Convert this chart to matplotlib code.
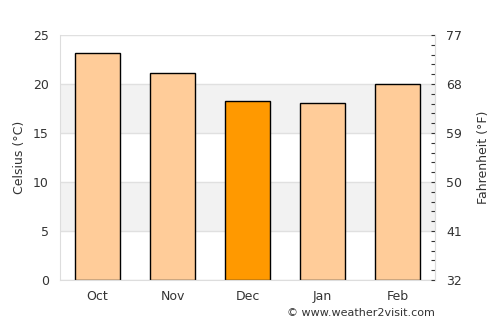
import matplotlib
matplotlib.use('Agg')
import matplotlib.pyplot as plt
import numpy as np

months = ['Oct', 'Nov', 'Dec', 'Jan', 'Feb']
temp_c = [23.15, 21.1, 18.25, 18.05, 19.95]
highlight = 'Dec'
c_ticks = [0, 5, 10, 15, 20, 25]
f_labels = ['32', '41', '50', '59', '68', '77']

fig = plt.figure(figsize=[5, 3.25], dpi=100)
ax = fig.add_axes([60/500, 45/325, 375/500, 245/325])

# grey bands
for lo in [5, 15]:
    ax.axhspan(lo, lo+5, color='#f2f2f2', zorder=0, lw=0)
for y in c_ticks:
    ax.axhline(y, color='#e0e0e0', lw=1, zorder=0.5)

x = np.arange(len(months))
cols = ['#ff9900' if m == highlight else '#ffcc99' for m in months]
ax.bar(x, temp_c, width=0.6, color=cols, edgecolor='black', lw=1, zorder=2)

ax.set_xlim(-0.5, len(months)-0.5)
ax.set_ylim(0, 25)
ax.set_xticks(x)
ax.set_xticklabels(months)
ax.set_yticks(c_ticks)
ax.tick_params(axis='both', length=0, labelsize=9, colors='#333333', pad=8)
ax.tick_params(axis='x', pad=7)
ax.spines['top'].set_visible(False)
for s in ['left', 'bottom', 'right']:
    ax.spines[s].set_color('#dddddd')
ax.set_ylabel('Celsius (°C)', fontsize=9, color='#333333', labelpad=5)

ax2 = ax.twinx()
ax2.set_ylim(0, 25)
ax2.set_yticks(c_ticks)
ax2.set_yticklabels(f_labels)
ax2.set_yticks(np.arange(0, 26, 1), minor=True)
ax2.tick_params(axis='y', which='both', direction='in', length=3, width=0.8, color='#333333',
                labelsize=9, labelcolor='#333333', pad=8)
for s in ['top', 'left', 'bottom']:
    ax2.spines[s].set_visible(False)
ax2.spines['right'].set_color('#dddddd')
ax2.set_ylabel('Fahrenheit (°F)', fontsize=9, color='#333333', labelpad=11)

fig.text(435/500, 1-313/325, '© www.weather2visit.com', fontsize=8, color='#333333',
         ha='right', va='center')

fig.savefig('out.png', dpi=100)
